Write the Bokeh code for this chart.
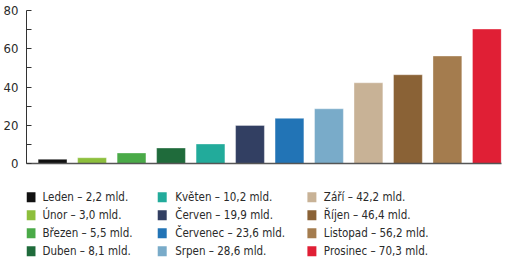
from bokeh.plotting import figure
from bokeh.layouts import column
from bokeh.models import ColumnDataSource, Range1d, FixedTicker
from bokeh.core.properties import value
from bokeh.embed import file_html
from bokeh.resources import INLINE

# Monthly values (billions) and legend labels
months = ["Leden", "Únor", "Březen", "Duben", "Květen", "Červen",
          "Červenec", "Srpen", "Září", "Říjen", "Listopad", "Prosinec"]
amounts = [2.2, 3.0, 5.5, 8.1, 10.2, 19.9, 23.6, 28.6, 42.2, 46.4, 56.2, 70.3]
colors = ["#111111", "#8dbf3c", "#4aaa48", "#1f6b3b", "#22ab9b", "#323f62",
          "#2274b6", "#79abc9", "#c8b296", "#8a6236", "#a47c4e", "#e01f35"]
y_ticks = [0, 20, 40, 60, 80]
y_minor = [10, 30, 50, 70]

FONT = "DejaVu Sans Condensed"
TEXT = "#2a2a2a"

labels = [f"{m} – {str(a).replace('.', ',')} mld." for m, a in zip(months, amounts)]
idx = list(range(len(months)))

src = ColumnDataSource(dict(x=idx, top=amounts, color=colors, label=labels))

p = figure(width=510, height=170, output_backend="svg", toolbar_location=None,
           x_range=Range1d(-0.66, 11.37), y_range=Range1d(0, 80),
           min_border_left=25, min_border_right=9, min_border_top=10,
           min_border_bottom=7, x_axis_location="below")
p.vbar(x="x", top="top", width=0.73, bottom=0, fill_color="color",
       line_color="white", line_alpha=0.35, line_width=1, source=src)

p.grid.visible = False
p.outline_line_color = None

xa = p.xaxis[0]
xa.ticker = FixedTicker(ticks=[])
xa.major_tick_line_color = None
xa.minor_tick_line_color = None
xa.axis_line_color = "#555555"
xa.axis_line_width = 1.6

ya = p.yaxis[0]
ya.ticker = FixedTicker(ticks=y_ticks, minor_ticks=y_minor)
ya.axis_line_color = "#333333"
ya.major_tick_in = 5
ya.major_tick_out = 0
ya.minor_tick_in = 5
ya.minor_tick_out = 0
ya.major_tick_line_color = "#333333"
ya.minor_tick_line_color = "#333333"
ya.major_label_text_font = FONT
ya.major_label_text_font_size = "13px"
ya.major_label_text_color = TEXT
ya.major_label_standoff = 8

# Legend panel: three columns of four rows; its frame lines up with the
# chart frame, so the x range is set to run in page pixels (25..501)
rows = 4
col_sq = [29.5, 161, 311]
col_tx = [41, 174, 323]
leg_x_sq = [col_sq[i // rows] for i in idx]
leg_x_tx = [col_tx[i // rows] for i in idx]
leg_y = [26.7 + 18 * (i % rows) for i in idx]
lsrc = ColumnDataSource(dict(xs=leg_x_sq, xt=leg_x_tx, y=leg_y,
                             color=colors, label=labels))

lg = figure(width=510, height=95, output_backend="svg", toolbar_location=None,
            x_range=Range1d(25, 501), y_range=Range1d(95, 0),
            min_border_left=25, min_border_right=9,
            min_border_top=0, min_border_bottom=0)
lg.axis.visible = False
lg.grid.visible = False
lg.outline_line_color = None
lg.rect(x="xs", y="y", width=9, height=10, fill_color="color",
        line_color=None, source=lsrc)
lg.text(x="xt", y="y", text="label", text_font=value(FONT),
        text_font_size="11.5px", text_color=TEXT, text_baseline="middle",
        source=lsrc)

layout = column(p, lg, spacing=0)
open("out.html", "w").write(file_html(layout, INLINE))
